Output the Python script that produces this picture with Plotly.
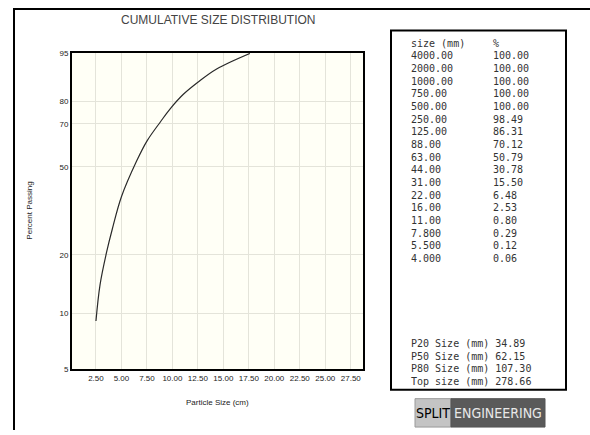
import numpy as np
import plotly.graph_objects as go

# ---------------- data ----------------
# curve (particle size in cm, percent passing)
curve_size_cm = [2.5, 2.9, 3.55, 4.1, 5.0, 6.5, 7.5, 8.85, 9.8, 11.1, 12.5, 14.3, 17.6]
curve_pct = [9.1, 14.1, 20.7, 26.7, 37.6, 52.7, 61.9, 71.1, 76.9, 82.9, 87.2, 91.2, 94.9]

x_ticks = [2.5, 5.0, 7.5, 10.0, 12.5, 15.0, 17.5, 20.0, 22.5, 25.0, 27.5]
y_ticks = [5, 10, 20, 50, 70, 80, 95]

table_sizes = ["4000.00", "2000.00", "1000.00", "750.00", "500.00", "250.00", "125.00",
               "88.00", "63.00", "44.00", "31.00", "22.00", "16.00", "11.00",
               "7.800", "5.500", "4.000"]
table_pct = [100.00, 100.00, 100.00, 100.00, 100.00, 98.49, 86.31, 70.12, 50.79,
             30.78, 15.50, 6.48, 2.53, 0.80, 0.29, 0.12, 0.06]

summary_labels = ["P20 Size (mm)", "P50 Size (mm)", "P80 Size (mm)", "Top size (mm)"]
summary_values = [34.89, 62.15, 107.30, 278.66]

title = "CUMULATIVE SIZE DISTRIBUTION"
x_title = "Particle Size (cm)"
y_title = "Percent Passing"

# ---------------- helpers ----------------
W, H = 590, 435


def rr(p):
    p = np.asarray(p, dtype=float) / 100.0
    return np.log(-np.log(1.0 - p))


def px_x(x):
    return x / W


def px_y(y):
    return 1 - y / H


fig = go.Figure()
fig.add_trace(go.Scatter(
    x=curve_size_cm, y=rr(curve_pct), mode="lines",
    line=dict(color="#2a2a2a", width=1.2, shape="spline", smoothing=1.0),
    hoverinfo="skip", showlegend=False))

axis_font = dict(family="Liberation Sans, Arial, sans-serif", size=8, color="#222")

fig.update_layout(
    width=W, height=H, autosize=False,
    margin=dict(l=0, r=0, t=0, b=0),
    paper_bgcolor="white",
    plot_bgcolor="#FFFFF6",
    showlegend=False,
    xaxis=dict(
        domain=[px_x(72), px_x(363)],
        range=[0.15, 28.7],
        tickvals=x_ticks,
        ticktext=[f"{v:.2f}" for v in x_ticks],
        showgrid=True, gridcolor="#E4E4DA", gridwidth=1,
        showline=True, linecolor="black", linewidth=2, mirror=True,
        ticks="", tickfont=axis_font, zeroline=False,
    ),
    yaxis=dict(
        domain=[px_y(373), px_y(50)],
        range=[float(rr(5)), float(rr(95))],
        tickvals=list(rr(y_ticks)),
        ticktext=[str(v) for v in y_ticks],
        showgrid=True, gridcolor="#E4E4DA", gridwidth=1,
        showline=True, linecolor="black", linewidth=2, mirror=True,
        ticks="", tickfont=axis_font, zeroline=False,
    ),
)

shapes = []
# outer frame lines
shapes.append(dict(type="line", xref="paper", yref="paper",
                   x0=px_x(14), x1=px_x(14), y0=px_y(4), y1=px_y(H),
                   line=dict(color="black", width=2)))
shapes.append(dict(type="line", xref="paper", yref="paper",
                   x0=px_x(13), x1=1, y0=px_y(5), y1=px_y(5),
                   line=dict(color="black", width=2)))
# table box
shapes.append(dict(type="rect", xref="paper", yref="paper",
                   x0=px_x(391), x1=px_x(566), y0=px_y(394), y1=px_y(27),
                   line=dict(color="black", width=2), fillcolor="white"))
# logo boxes
shapes.append(dict(type="rect", xref="paper", yref="paper",
                   x0=px_x(415), x1=px_x(451), y0=px_y(432), y1=px_y(403),
                   line=dict(color="#9a9a9a", width=1), fillcolor="#c4c4c4"))
shapes.append(dict(type="rect", xref="paper", yref="paper",
                   x0=px_x(451), x1=px_x(545), y0=px_y(432), y1=px_y(403),
                   line=dict(color="#555", width=1), fillcolor="#5a5a5a"))
fig.update_layout(shapes=shapes)

ann = []
ann.append(dict(text=title, x=px_x(218), y=px_y(16), xref="paper", yref="paper",
                showarrow=False, xanchor="center", yanchor="middle",
                font=dict(family="Liberation Sans, Arial, sans-serif", size=12, color="#444")))
ann.append(dict(text=x_title, x=px_x(217.5), y=px_y(407), xref="paper", yref="paper",
                showarrow=False, xanchor="center", yanchor="middle",
                font=dict(family="Liberation Sans, Arial, sans-serif", size=8, color="#222")))
ann.append(dict(text=y_title, x=px_x(30), y=px_y(211), xref="paper", yref="paper",
                showarrow=False, xanchor="center", yanchor="middle", textangle=-90,
                font=dict(family="Liberation Sans, Arial, sans-serif", size=8, color="#222")))

mono = dict(family="DejaVu Sans Mono, Liberation Mono, monospace", size=10, color="#333")
col1, col2 = 409, 491
row0, dy = 40.0, 12.94
ann.append(dict(text="size (mm)", x=px_x(col1), y=px_y(row0), xref="paper", yref="paper",
                showarrow=False, xanchor="left", yanchor="middle", font=mono))
ann.append(dict(text="%", x=px_x(col2), y=px_y(row0), xref="paper", yref="paper",
                showarrow=False, xanchor="left", yanchor="middle", font=mono))
for i, (s, p) in enumerate(zip(table_sizes, table_pct)):
    yy = row0 + (i + 1) * dy
    ann.append(dict(text=s, x=px_x(col1), y=px_y(yy), xref="paper", yref="paper",
                    showarrow=False, xanchor="left", yanchor="middle", font=mono))
    ann.append(dict(text=f"{p:.2f}", x=px_x(col2), y=px_y(yy), xref="paper", yref="paper",
                    showarrow=False, xanchor="left", yanchor="middle", font=mono))

srow0, sdy = 346.7, 12.8
for i, (lab, v) in enumerate(zip(summary_labels, summary_values)):
    yy = srow0 + i * sdy
    ann.append(dict(text=f"{lab} {v:.2f}", x=px_x(col1), y=px_y(yy), xref="paper", yref="paper",
                    showarrow=False, xanchor="left", yanchor="middle", font=mono))

logo_font = "DejaVu Sans Condensed, Liberation Sans Narrow, sans-serif"
ann.append(dict(text="SPLIT", x=px_x(433), y=px_y(418), xref="paper", yref="paper",
                showarrow=False, xanchor="center", yanchor="middle",
                font=dict(family=logo_font, size=14, color="black")))
ann.append(dict(text="ENGINEERING", x=px_x(498), y=px_y(418), xref="paper", yref="paper",
                showarrow=False, xanchor="center", yanchor="middle",
                font=dict(family=logo_font, size=14, color="#e8e8e8")))
fig.update_layout(annotations=ann)

fig.write_html("out.html", config={"displayModeBar": False},
               post_script="document.body.style.margin='0';")
